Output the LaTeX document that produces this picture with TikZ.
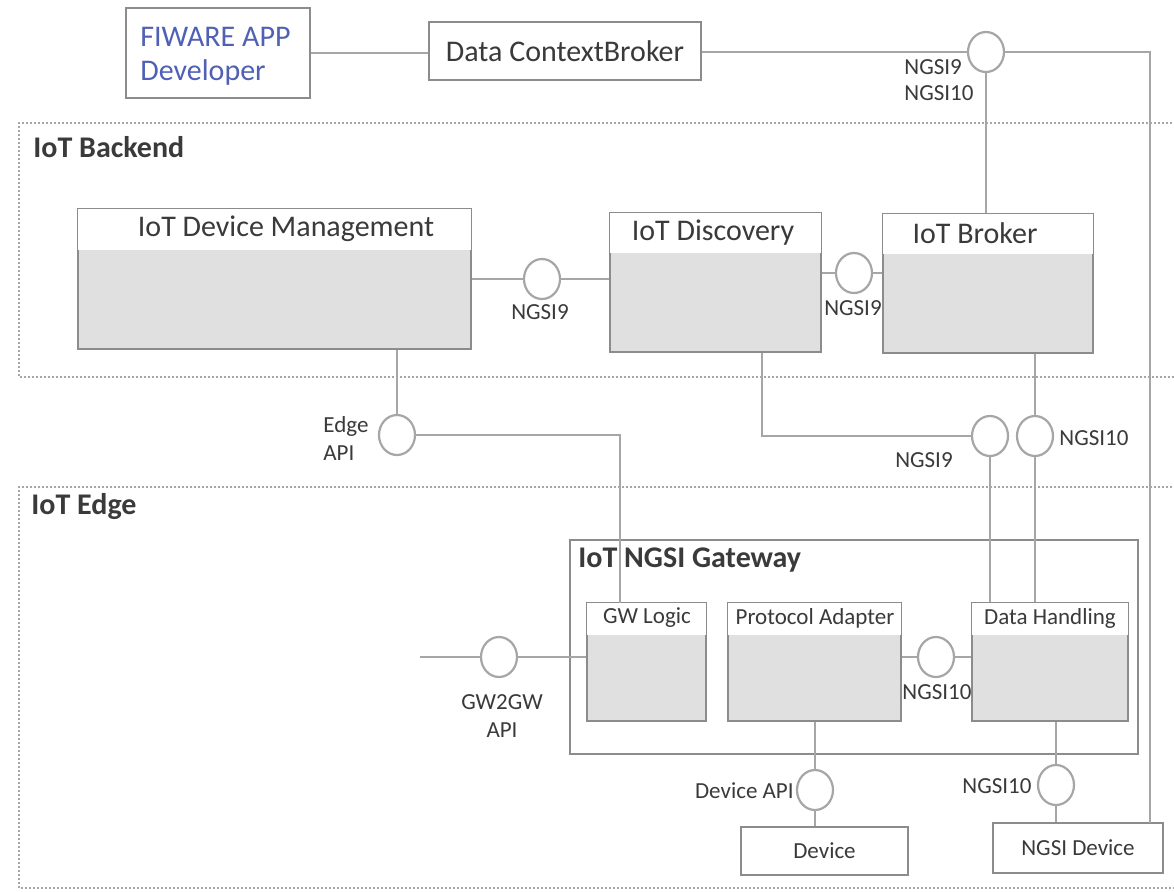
\documentclass[tikz,border=0pt]{standalone}
\usepackage{fontspec}
\setmainfont{Carlito}
\usetikzlibrary{shapes.geometric,fit}
\definecolor{linegray}{HTML}{A6A6A6}
\definecolor{boxline}{HTML}{8C8C8C}
\definecolor{boxfill}{HTML}{E0E0E0}
\definecolor{txt}{HTML}{3A3A3A}
\definecolor{fiblue}{HTML}{5060B4}
\tikzset{
  conn/.style={draw=linegray, line width=1.1pt},
  region/.style={draw=linegray, line width=1.2pt, dash pattern=on 0.8pt off 1.2pt},
  plainbox/.style={draw=boxline, line width=1.1pt, fill=white, inner sep=0pt},
  compbox/.style={draw=boxline, line width=1.1pt, fill=boxfill, inner sep=0pt},
  iface/.style={ellipse, draw=linegray, line width=1.1pt, fill=white, inner sep=0pt, minimum width=18pt, minimum height=20pt},
  bigtxt/.style={text=txt, font=\fontsize{15}{17}\selectfont, inner sep=0pt},
  bigbold/.style={text=txt, font=\fontsize{15}{17}\selectfont\bfseries, inner sep=0pt},
  smalltxt/.style={text=txt, font=\fontsize{11.5}{14}\selectfont, inner sep=0pt}
}
\begin{document}
\begin{tikzpicture}[x=0.5pt,y=-0.5pt]
\useasboundingbox (0,0) rectangle (1174,891);
\fill[white] (0,0) rectangle (1174,891);

% regions
\draw[region] (1180,123) -- (19,123) -- (19,377) -- (1180,377);
\draw[region] (1180,487) -- (19,487) -- (19,888) -- (1180,888);
\node[bigbold, anchor=west] (lbback) at (33,147) {IoT Backend};
\node[bigbold, anchor=west] (lbedge) at (31,507) {IoT Edge};

% top boxes
\node[plainbox, fit={(126,8) (310,98)}] (fiware) {};
\node[text=fiblue, font=\fontsize{15}{17}\selectfont, align=left, anchor=west, inner sep=0pt] (fiwaret) at (140,56) {FIWARE APP\\Developer};
\node[plainbox, fit={(429,22) (701,80)}] (dcb) {};
\node[bigtxt] (dcbt) at (dcb.center) {Data ContextBroker};

% backend components
\node[compbox, fit={(78,209) (471,349)}] (idm) {};
\fill[white] ([shift={(0.55pt,-0.55pt)}]idm.north west) rectangle ([shift={(-0.55pt,0pt)}]idm.north east |- 0,250);
\node[bigtxt] (idmt) at (286,229) {IoT Device Management};

\node[compbox, fit={(610,213) (821,352)}] (disc) {};
\fill[white] ([shift={(0.55pt,-0.55pt)}]disc.north west) rectangle ([shift={(-0.55pt,0pt)}]disc.north east |- 0,253);
\node[bigtxt] (disct) at (713,233) {IoT Discovery};

\node[compbox, fit={(883,214) (1093,353)}] (broker) {};
\fill[white] ([shift={(0.55pt,-0.55pt)}]broker.north west) rectangle ([shift={(-0.55pt,0pt)}]broker.north east |- 0,254);
\node[bigtxt] (brokert) at (975,233) {IoT Broker};

% gateway
\node[draw=boxline, line width=1.1pt, inner sep=0pt, fit={(570,540) (1138,754)}] (gw) {};
\node[bigbold, anchor=west] (gwt) at (578,560) {IoT NGSI Gateway};

\node[compbox, fit={(587,603) (706,721)}] (gwl) {};
\fill[white] ([shift={(0.55pt,-0.55pt)}]gwl.north west) rectangle ([shift={(-0.55pt,0pt)}]gwl.north east |- 0,635);
\node[smalltxt] (gwlt) at (647,618) {GW Logic};

\node[compbox, fit={(728,603) (901,721)}] (pa) {};
\fill[white] ([shift={(0.55pt,-0.55pt)}]pa.north west) rectangle ([shift={(-0.55pt,0pt)}]pa.north east |- 0,635);
\node[smalltxt] (pat) at (815,618) {Protocol Adapter};

\node[compbox, fit={(972,603) (1128,721)}] (dh) {};
\fill[white] ([shift={(0.55pt,-0.55pt)}]dh.north west) rectangle ([shift={(-0.55pt,0pt)}]dh.north east |- 0,635);
\node[smalltxt] (dht) at (1050,618) {Data Handling};

% devices
\node[plainbox, fit={(741,827) (908,875)}] (dev) {};
\node[smalltxt] (devt) at (dev.center) {Device};
\node[plainbox, fit={(993,823) (1163,873)}] (nd) {};
\node[smalltxt] (ndt) at (nd.center) {NGSI Device};

% interface circles
\node[iface] (c1) at (986,52) {};
\node[iface] (c2) at (542,279) {};
\node[iface] (c3) at (854,273) {};
\node[iface] (c4) at (397,435) {};
\node[iface] (c5) at (990,436) {};
\node[iface] (c6) at (1035,436) {};
\node[iface] (c7) at (499,657) {};
\node[iface] (c8) at (936,657) {};
\node[iface] (c9) at (815,790) {};
\node[iface] (c10) at (1056,785) {};

\coordinate (ndin) at (1150,823);
\coordinate (gwfree) at (420,657);
\coordinate (gwlin) at (620,603);

% connectors
\draw[conn] (fiware.east) -- (fiware.east -| dcb.west);
\draw[conn] (dcb.east |- c1) -- (c1.west);
\draw[conn] (c1.east) -| (ndin);
\draw[conn] (c1.south) -- (c1.south |- broker.north);
\draw[conn] (idm.east |- c2) -- (c2.west);
\draw[conn] (c2.east) -- (c2.east -| disc.west);
\draw[conn] (disc.east |- c3) -- (c3.west);
\draw[conn] (c3.east) -- (c3.east -| broker.west);
\draw[conn] (idm.south -| c4) -- (c4.north);
\draw[conn] (c4.east) -| (gwlin);
\draw[conn] (disc.south -| 762,0) |- (c5.west);
\draw[conn] (c5.south) -- (c5.south |- dh.north);
\draw[conn] (broker.south -| c6) -- (c6.north);
\draw[conn] (c6.south) -- (c6.south |- dh.north);
\draw[conn] (gwfree) -- (c7.west);
\draw[conn] (c7.east) -- (c7.east -| gwl.west);
\draw[conn] (pa.east |- c8) -- (c8.west);
\draw[conn] (c8.east) -- (c8.east -| dh.west);
\draw[conn] (pa.south -| c9) -- (c9.north);
\draw[conn] (c9.south) -- (c9.south |- dev.north);
\draw[conn] (dh.south -| c10) -- (c10.north);
\draw[conn] (c10.south) -- (c10.south |- nd.north);

% labels
\node[smalltxt, align=left, anchor=west, font=\fontsize{11.5}{13}\selectfont] (l1) at (904,80) {NGSI9\\NGSI10};
\node[smalltxt] (l2) at (540,312) {NGSI9};
\node[smalltxt] (l3) at (853,308) {NGSI9};
\node[smalltxt, align=left, anchor=west] (l4) at (323,439) {Edge\\API};
\node[smalltxt] (l5) at (924,460) {NGSI9};
\node[smalltxt, anchor=west] (l6) at (1059,438) {NGSI10};
\node[smalltxt, align=center] (l7) at (502,716) {GW2GW\\API};
\node[smalltxt, anchor=east] (l8) at (794,791) {Device API};
\node[smalltxt] (l9) at (937,692) {NGSI10};
\node[smalltxt] (l10) at (997,786) {NGSI10};
\end{tikzpicture}
\end{document}
